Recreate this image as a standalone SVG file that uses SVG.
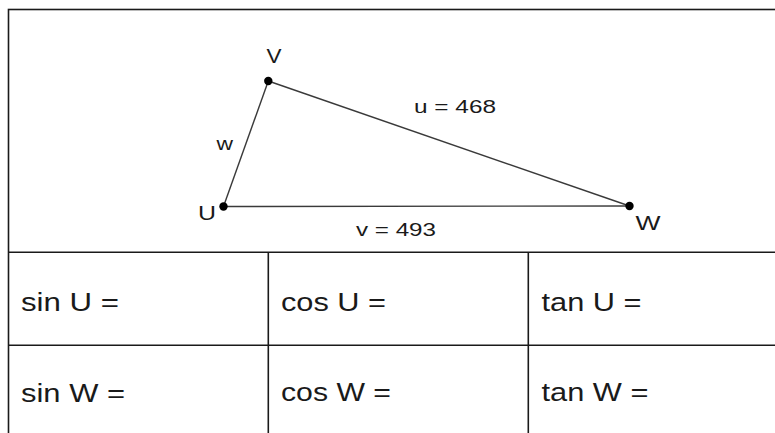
<svg xmlns="http://www.w3.org/2000/svg" width="775" height="433" viewBox="0 0 775 433">
<style>
.frame{fill:none;stroke:#1a1a1a;stroke-width:1.6}
.edge{stroke:#3a3a3a;stroke-width:1.4;fill:none}
.dot{fill:#000}
.lbl{font-family:"Liberation Sans",Arial,sans-serif;font-size:20px;fill:#1a1a1a}
.side{font-family:"Liberation Sans",Arial,sans-serif;font-size:19px;fill:#1a1a1a}
.cell{font-family:"Liberation Sans",Arial,sans-serif;font-size:26px;fill:#1a1a1a}
</style>
<rect width="775" height="433" fill="#fff"/>
<g id="table">
<rect class="frame" x="8.5" y="9.5" width="780" height="440"/>
<line class="frame" x1="8.5" y1="252.3" x2="780" y2="252.3"/>
<line class="frame" x1="8.5" y1="345.3" x2="780" y2="345.3"/>
<line class="frame" x1="268.3" y1="252.3" x2="268.3" y2="440"/>
<line class="frame" x1="528.3" y1="252.3" x2="528.3" y2="440"/>
</g>
<g id="connectors">
<line class="edge" x1="268.3" y1="81" x2="223.5" y2="206.5"/>
<line class="edge" x1="268.3" y1="81" x2="629.5" y2="206"/>
<line class="edge" x1="223.5" y1="206.5" x2="629.5" y2="206"/>
<text class="side" x="216.5" y="150" textLength="16.5" lengthAdjust="spacingAndGlyphs">w</text>
<text class="side" x="414" y="113" textLength="82" lengthAdjust="spacingAndGlyphs">u = 468</text>
<text class="side" x="356" y="236" textLength="80" lengthAdjust="spacingAndGlyphs">v = 493</text>
</g>
<g id="V"><circle class="dot" cx="268.3" cy="81" r="4.2"/><text class="lbl" x="266.5" y="63" textLength="15" lengthAdjust="spacingAndGlyphs">V</text></g>
<g id="U"><circle class="dot" cx="223.5" cy="206.5" r="4.2"/><text class="lbl" x="198" y="219.5" textLength="18" lengthAdjust="spacingAndGlyphs">U</text></g>
<g id="W"><circle class="dot" cx="629.5" cy="206" r="4.2"/><text class="lbl" x="635.5" y="230" textLength="25" lengthAdjust="spacingAndGlyphs">W</text></g>
<g id="cell-sinU"><text class="cell" x="21" y="311" textLength="98" lengthAdjust="spacingAndGlyphs">sin U =</text></g>
<g id="cell-cosU"><text class="cell" x="281" y="310.5" textLength="105" lengthAdjust="spacingAndGlyphs">cos U =</text></g>
<g id="cell-tanU"><text class="cell" x="541.5" y="310.5" textLength="100" lengthAdjust="spacingAndGlyphs">tan U =</text></g>
<g id="cell-sinW"><text class="cell" x="21" y="402" textLength="104" lengthAdjust="spacingAndGlyphs">sin W =</text></g>
<g id="cell-cosW"><text class="cell" x="281" y="401" textLength="110" lengthAdjust="spacingAndGlyphs">cos W =</text></g>
<g id="cell-tanW"><text class="cell" x="541.5" y="401" textLength="107" lengthAdjust="spacingAndGlyphs">tan W =</text></g>
</svg>
